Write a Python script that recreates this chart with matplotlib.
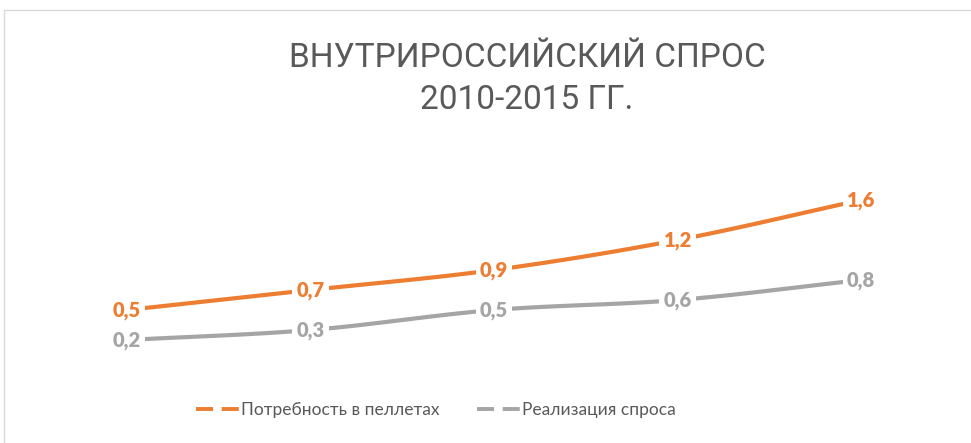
import matplotlib

matplotlib.use("Agg")
import matplotlib.pyplot as plt
from matplotlib.lines import Line2D
from matplotlib.patches import Rectangle
import numpy as np

plt.rcParams["font.family"] = ["Lato", "DejaVu Sans"]

years = ["2010", "2011", "2012", "2013", "2015"]
need = [0.5, 0.7, 0.9, 1.2, 1.6]
sales = [0.2, 0.3, 0.5, 0.6, 0.8]
need_labels = ["0,5", "0,7", "0,9", "1,2", "1,6"]
sales_labels = ["0,2", "0,3", "0,5", "0,6", "0,8"]
series_names = ["Потребность в пеллетах", "Реализация спроса"]

ORANGE = "#ED7D31"
GRAY = "#A5A5A5"
TEXT = "#595959"


def smooth(x, y, steps=30):
    # сглаживание как в Excel (Catmull-Rom)
    x = np.asarray(x, float)
    y = np.asarray(y, float)
    px = np.concatenate([[2 * x[0] - x[1]], x, [2 * x[-1] - x[-2]]])
    py = np.concatenate([[2 * y[0] - y[1]], y, [2 * y[-1] - y[-2]]])
    xs, ys = [], []
    t = np.linspace(0, 1, steps)
    for i in range(1, len(px) - 2):
        p0, p1, p2, p3 = [np.array([px[j], py[j]]) for j in range(i - 1, i + 3)]
        b1 = p1 + (p2 - p0) / 6
        b2 = p2 - (p3 - p1) / 6
        pts = ((1 - t) ** 3)[:, None] * p1 + (3 * (1 - t) ** 2 * t)[:, None] * b1 \
            + (3 * (1 - t) * t ** 2)[:, None] * b2 + (t ** 3)[:, None] * p2
        xs.extend(pts[:, 0])
        ys.extend(pts[:, 1])
    return np.array(xs), np.array(ys)


fig = plt.figure(figsize=(9.71, 4.43), dpi=100)
W, H = 971, 443

# рамка диаграммы
fig.patches.append(Rectangle((4 / W, -0.1), 1.1, (443 - 10) / H + 0.1,
                             transform=fig.transFigure, fill=False,
                             edgecolor="#D9D9D9", linewidth=1))

ax = fig.add_axes([35 / W, (443 - 360) / H, (953 - 35) / W, 180 / H])
x = np.arange(len(years))
for vals, labels, color in [(need, need_labels, ORANGE),
                            (sales, sales_labels, GRAY)]:
    sx, sy = smooth(x, vals)
    ax.plot(sx, sy, color=color, linewidth=3, solid_capstyle="butt", zorder=2)
    for xi, v, lab in zip(x, vals, labels):
        ax.text(xi, v, lab, ha="center", va="center", fontsize=14.5,
                fontweight="heavy", color=color, zorder=3,
                bbox=dict(facecolor="white", edgecolor="none", pad=3))

ax.set_xlim(-0.5, len(years) - 0.5)
ax.set_ylim(0, 1.8)
ax.axis("off")

title_font = ["Roboto", "DejaVu Sans"]
fig.text(527 / W, 1 - 58 / H, "ВНУТРИРОССИЙСКИЙ СПРОС", ha="center",
         va="center", fontsize=24, color=TEXT, family=title_font)
fig.text(527 / W, 1 - 100 / H, "2010-2015 ГГ.", ha="center",
         va="center", fontsize=24, color=TEXT, family=title_font)

handles = [Line2D([], [], color=ORANGE, linewidth=2.8, dashes=(4.4, 2.2)),
           Line2D([], [], color=GRAY, linewidth=2.8, dashes=(4.4, 2.2))]
fig.legend(handles, series_names, loc="center", bbox_to_anchor=(436 / W, 1 - 410 / H),
           ncol=2, frameon=False, fontsize=12.5, labelcolor=TEXT,
           handlelength=2.45, handletextpad=0.15, columnspacing=2.15)

fig.savefig("out.png", dpi=100)
